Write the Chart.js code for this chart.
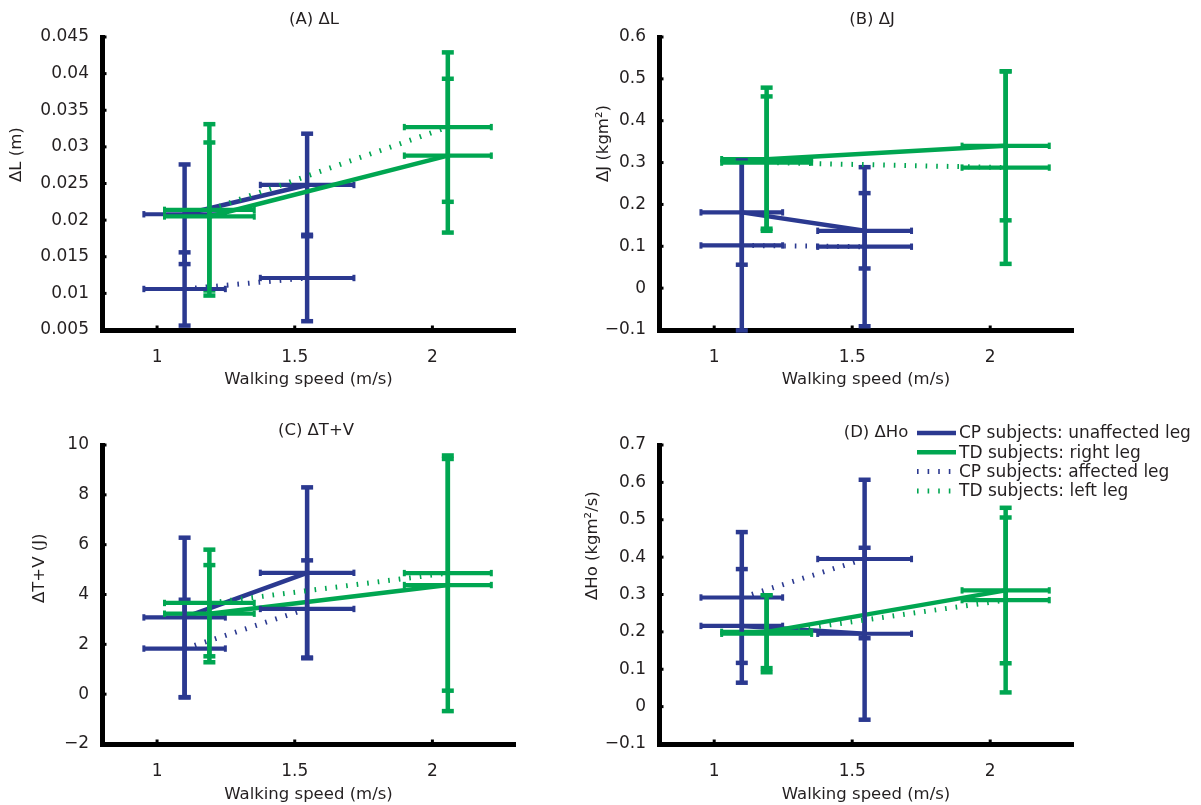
<!DOCTYPE html>
<html><head><meta charset="utf-8">
<script src="https://cdn.jsdelivr.net/npm/chart.js@4.4.0/dist/chart.umd.min.js"></script>
<style>
html,body{margin:0;padding:0;background:#fff;width:1201px;height:805px;overflow:hidden}
canvas{position:absolute;display:block}
</style></head><body>
<canvas id="cA" width="600" height="400" style="left:0;top:0"></canvas>
<canvas id="cC" width="600" height="405" style="left:0;top:400px"></canvas>
<canvas id="cB" width="641" height="400" style="left:560px;top:0"></canvas>
<canvas id="cD" width="641" height="405" style="left:560px;top:400px"></canvas>
<script>
// ---- shared x data (walking speed, m/s) ----
const speedTicks = [1, 1.5, 2];
const cpSpeed = [1.10, 1.545];
const cpSpeedSD = [0.148, 0.170];
const tdSpeed = [1.19, 2.056];
const tdSpeedSD = [0.163, 0.158];

const seriesNames = ['CP subjects: unaffected leg', 'TD subjects: right leg', 'CP subjects: affected leg', 'TD subjects: left leg'];
const xTitle = 'Walking speed (m/s)';

// ---- (A) ΔL (m) ----
const dL_cpUnaffected = [0.0208, 0.0248];
const dL_cpUnaffectedSD = [0.0068, 0.0070];
const dL_tdRight = [0.0205, 0.0288];
const dL_tdRightSD = [0.0101, 0.0105];
const dL_cpAffected = [0.0106, 0.0121];
const dL_cpAffectedSD = [0.0050, 0.0059];
const dL_tdLeft = [0.0214, 0.0327];
const dL_tdLeftSD = [0.0117, 0.0102];

// ---- (B) ΔJ (kgm²) ----
const dJ_cpUnaffected = [0.181, 0.137];
const dJ_cpUnaffectedSD = [0.125, 0.090];
const dJ_tdRight = [0.308, 0.340];
const dJ_tdRightSD = [0.171, 0.178];
const dJ_cpAffected = [0.102, 0.099];
const dJ_cpAffectedSD = [0.203, 0.190];
const dJ_tdLeft = [0.300, 0.288];
const dJ_tdLeftSD = [0.158, 0.230];

// ---- (C) ΔT+V (J) ----
const dTV_cpUnaffected = [3.08, 4.87];
const dTV_cpUnaffectedSD = [3.20, 3.43];
const dTV_tdRight = [3.23, 4.38];
const dTV_tdRightSD = [1.95, 5.06];
const dTV_cpAffected = [1.83, 3.42];
const dTV_cpAffectedSD = [1.96, 1.95];
const dTV_tdLeft = [3.66, 4.86];
const dTV_tdLeftSD = [2.14, 4.72];

// ---- (D) ΔHo (kgm²/s) ----
const dHo_cpUnaffected = [0.216, 0.195];
const dHo_cpUnaffectedSD = [0.152, 0.230];
const dHo_tdRight = [0.200, 0.311];
const dHo_tdRightSD = [0.097, 0.195];
const dHo_cpAffected = [0.292, 0.395];
const dHo_cpAffectedSD = [0.175, 0.212];
const dHo_tdLeft = [0.195, 0.285];
const dHo_tdLeftSD = [0.103, 0.247];

const BLUE = '#2b3990';
const GREEN = '#00a651';
const TXT = '#231f20';
const FONT = '"DejaVu Sans", sans-serif';

function pts(xs, ys) { return xs.map((x, i) => ({x: x, y: ys[i]})); }

function makeDatasets(cpU, cpUsd, tdR, tdRsd, cpA, cpAsd, tdL, tdLsd) {
  return [
    {label: seriesNames[0], data: pts(cpSpeed, cpU), errX: cpSpeedSD, errY: cpUsd, borderColor: BLUE, borderWidth: 4.5, borderDash: [], order: 4},
    {label: seriesNames[1], data: pts(tdSpeed, tdR), errX: tdSpeedSD, errY: tdRsd, borderColor: GREEN, borderWidth: 4.5, borderDash: [], order: 3},
    {label: seriesNames[2], data: pts(cpSpeed, cpA), errX: cpSpeedSD, errY: cpAsd, borderColor: BLUE, borderWidth: 5, borderDash: [1.6, 9], order: 2},
    {label: seriesNames[3], data: pts(tdSpeed, tdL), errX: tdSpeedSD, errY: tdLsd, borderColor: GREEN, borderWidth: 5, borderDash: [1.6, 9], order: 1}
  ].map(d => Object.assign(d, {showLine: true, pointRadius: 0, pointHoverRadius: 0, fill: false, tension: 0, borderCapStyle: 'butt'}));
}

const errorBarPlugin = {
  id: 'errorBars',
  afterDatasetDraw(chart, args) {
    const ds = chart.data.datasets[args.index];
    if (!ds.errX) return;
    const xs = chart.scales.x, ys = chart.scales.y, ctx = chart.ctx;
    ctx.save();
    ctx.strokeStyle = ds.borderColor;
    ctx.setLineDash([]);
    ctx.lineCap = 'butt';
    ds.data.forEach((p, i) => {
      const px = xs.getPixelForValue(p.x), py = ys.getPixelForValue(p.y);
      const x1 = xs.getPixelForValue(p.x - ds.errX[i]), x2 = xs.getPixelForValue(p.x + ds.errX[i]);
      const y1 = ys.getPixelForValue(p.y - ds.errY[i]), y2 = ys.getPixelForValue(p.y + ds.errY[i]);
      ctx.lineWidth = 4.2;
      ctx.beginPath(); ctx.moveTo(x1, py); ctx.lineTo(x2, py); ctx.stroke();
      ctx.lineWidth = 4.5;
      ctx.beginPath(); ctx.moveTo(px, y1); ctx.lineTo(px, y2); ctx.stroke();
      ctx.lineWidth = 4.5;
      [y1, y2].forEach(y => { ctx.beginPath(); ctx.moveTo(px - 6, y); ctx.lineTo(px + 6, y); ctx.stroke(); });
      ctx.lineWidth = 3;
      [x1, x2].forEach(x => { ctx.beginPath(); ctx.moveTo(x, py - 3.2); ctx.lineTo(x, py + 3.2); ctx.stroke(); });
    });
    ctx.restore();
  }
};

const decorPlugin = {
  id: 'decor',
  afterDraw(chart) {
    const ctx = chart.ctx, a = chart.chartArea, xs = chart.scales.x, ys = chart.scales.y;
    const o = chart.options.plugins.decor;
    ctx.save();
    ctx.strokeStyle = '#000';
    ctx.lineWidth = 3;
    ys.ticks.forEach(t => { const y = ys.getPixelForValue(t.value); ctx.beginPath(); ctx.moveTo(a.left, y); ctx.lineTo(a.left + 4.5, y); ctx.stroke(); });
    xs.ticks.forEach(t => { const x = xs.getPixelForValue(t.value); ctx.beginPath(); ctx.moveTo(x, a.bottom); ctx.lineTo(x, a.bottom - 4.5); ctx.stroke(); });
    ctx.fillStyle = TXT;
    ctx.font = '16.5px ' + FONT;
    ctx.textBaseline = 'middle';
    ctx.textAlign = 'center';
    ctx.fillText(o.title, o.tx, o.ty);
    ctx.save();
    ctx.translate(o.yx, o.yy);
    ctx.rotate(-Math.PI / 2);
    ctx.textAlign = 'left';
    ctx.fillText(o.yTitle, 0, 0);
    ctx.restore();
    ctx.restore();
  }
};

const legendPlugin = {
  id: 'sideLegend',
  afterDraw(chart) {
    const o = chart.options.plugins.sideLegend;
    if (!o || !o.show) return;
    const ctx = chart.ctx;
    ctx.save();
    chart.data.datasets.forEach((ds, i) => {
      const y = o.y + i * o.rowH;
      ctx.strokeStyle = ds.borderColor;
      ctx.lineWidth = ds.borderWidth;
      ctx.setLineDash(ds.borderDash || []);
      ctx.lineCap = 'butt';
      ctx.beginPath(); ctx.moveTo(o.x, y); ctx.lineTo(o.x + o.lineW, y); ctx.stroke();
      ctx.setLineDash([]);
      ctx.fillStyle = TXT;
      ctx.font = '17px ' + FONT;
      ctx.textAlign = 'left';
      ctx.textBaseline = 'middle';
      ctx.fillText(ds.label, o.x + o.lineW + 3, y + 1);
    });
    ctx.restore();
  }
};

function fmt(v) {
  const s = String(+(+v).toFixed(4));
  return s.startsWith('-') ? '\u2212' + s.slice(1) : s;
}

function makeChart(id, cfg) {
  const ctx = document.getElementById(id);
  return new Chart(ctx, {
    type: 'scatter',
    data: {datasets: cfg.datasets},
    plugins: [errorBarPlugin, decorPlugin, legendPlugin],
    options: {
      responsive: false,
      animation: false,
      events: [],
      layout: {padding: cfg.padding},
      plugins: {
        legend: {display: false},
        tooltip: {enabled: false},
        title: {display: false},
        decor: cfg.decor,
        sideLegend: cfg.legend || {show: false}
      },
      scales: {
        x: {
          type: 'linear', min: 0.8, max: 2.3,
          afterBuildTicks: s => { s.ticks = speedTicks.map(v => ({value: v})); },
          afterFit: s => { s.height = cfg.xHeight; },
          grid: {display: false, drawTicks: false},
          border: {display: true, color: '#000', width: 5},
          ticks: {color: TXT, font: {family: FONT, size: 17}, padding: 17, callback: v => fmt(v), maxRotation: 0},
          title: {display: true, text: xTitle, color: TXT, font: {family: FONT, size: 16.5}, padding: {top: 0, bottom: 0}}
        },
        y: {
          type: 'linear', min: cfg.yMin, max: cfg.yMax,
          ticks: {stepSize: cfg.yStep, color: TXT, font: {family: FONT, size: 17}, padding: 13, callback: v => fmt(v)},
          afterFit: s => { s.width = cfg.yWidth; },
          grid: {display: false, drawTicks: false},
          border: {display: true, color: '#000', width: 5},
          title: {display: false}
        }
      }
    }
  });
}

makeChart('cA', {
  datasets: makeDatasets(dL_cpUnaffected, dL_cpUnaffectedSD, dL_tdRight, dL_tdRightSD, dL_cpAffected, dL_cpAffectedSD, dL_tdLeft, dL_tdLeftSD),
  yMin: 0.005, yMax: 0.045, yStep: 0.005,
  padding: {left: 0, right: 85, top: 37, bottom: 10}, yWidth: 102, xHeight: 60,
  decor: {title: '(A) \u0394L', tx: 314, ty: 20, yTitle: '\u0394L (m)', yx: 17, yy: 182}
});
makeChart('cB', {
  datasets: makeDatasets(dJ_cpUnaffected, dJ_cpUnaffectedSD, dJ_tdRight, dJ_tdRightSD, dJ_cpAffected, dJ_cpAffectedSD, dJ_tdLeft, dJ_tdLeftSD),
  yMin: -0.1, yMax: 0.6, yStep: 0.1,
  padding: {left: 0, right: 128, top: 37, bottom: 10}, yWidth: 99, xHeight: 60,
  decor: {title: '(B) \u0394J', tx: 312, ty: 20, yTitle: '\u0394J (kgm\u00b2)', yx: 44, yy: 182}
});
makeChart('cC', {
  datasets: makeDatasets(dTV_cpUnaffected, dTV_cpUnaffectedSD, dTV_tdRight, dTV_tdRightSD, dTV_cpAffected, dTV_cpAffectedSD, dTV_tdLeft, dTV_tdLeftSD),
  yMin: -2, yMax: 10, yStep: 2,
  padding: {left: 0, right: 85, top: 45, bottom: 0}, yWidth: 102, xHeight: 61,
  decor: {title: '(C) \u0394T+V', tx: 316, ty: 31, yTitle: '\u0394T+V (J)', yx: 40, yy: 203}
});
makeChart('cD', {
  datasets: makeDatasets(dHo_cpUnaffected, dHo_cpUnaffectedSD, dHo_tdRight, dHo_tdRightSD, dHo_cpAffected, dHo_cpAffectedSD, dHo_tdLeft, dHo_tdLeftSD),
  yMin: -0.1, yMax: 0.7, yStep: 0.1,
  padding: {left: 0, right: 128, top: 45, bottom: 0}, yWidth: 99, xHeight: 61,
  decor: {title: '(D) \u0394Ho', tx: 316, ty: 33, yTitle: '\u0394Ho (kgm\u00b2/s)', yx: 33, yy: 200},
  legend: {show: true, x: 357, y: 33, rowH: 19.3, lineW: 39}
});
</script>
</body></html>
